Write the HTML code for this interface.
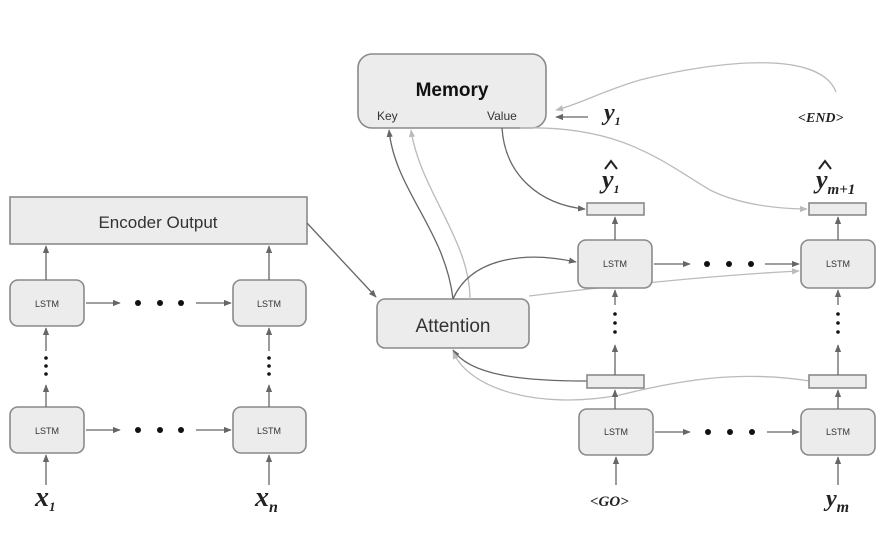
<!DOCTYPE html>
<html><head><meta charset="utf-8"><style>
html,body{margin:0;padding:0;background:#fff;}
svg{display:block;}
.box{fill:#ececec;stroke:#8a8a8a;stroke-width:1.6;}
.l{fill:none;stroke:#666;stroke-width:1.3;}
.lg{fill:none;stroke:#bbb;stroke-width:1.3;}
.t{font-family:"Liberation Sans",sans-serif;fill:#333;}
.m{font-family:"Liberation Serif",serif;font-style:italic;font-weight:bold;fill:#222;}
</style></head><body>
<svg width="895" height="543" viewBox="0 0 895 543" xmlns="http://www.w3.org/2000/svg">
<defs>
<marker id="a" viewBox="0 0 10 10" refX="9" refY="5" markerWidth="6" markerHeight="6" orient="auto"><path d="M0,1 L10,5 L0,9z" fill="#666"/></marker>
<marker id="ag" viewBox="0 0 10 10" refX="9" refY="5" markerWidth="6" markerHeight="6" orient="auto"><path d="M0,1 L10,5 L0,9z" fill="#bbb"/></marker>
</defs>
<rect class="box" x="10" y="197" width="297" height="47"/>
<text class="t" x="158" y="228" font-size="17" text-anchor="middle">Encoder Output</text>
<g>
<rect class="box" x="10" y="280" width="74" height="46" rx="8"/>
<rect class="box" x="233" y="280" width="73" height="46" rx="8"/>
<rect class="box" x="10" y="407" width="74" height="46" rx="8"/>
<rect class="box" x="233" y="407" width="73" height="46" rx="8"/>
<text class="t" x="47" y="307" font-size="9" text-anchor="middle">LSTM</text>
<text class="t" x="269" y="307" font-size="9" text-anchor="middle">LSTM</text>
<text class="t" x="47" y="434" font-size="9" text-anchor="middle">LSTM</text>
<text class="t" x="269" y="434" font-size="9" text-anchor="middle">LSTM</text>
</g>
<g class="l">
<line x1="46" y1="280" x2="46" y2="246" marker-end="url(#a)"/>
<line x1="269" y1="280" x2="269" y2="246" marker-end="url(#a)"/>
<line x1="46" y1="351" x2="46" y2="328" marker-end="url(#a)"/>
<line x1="269" y1="351" x2="269" y2="328" marker-end="url(#a)"/>
<line x1="46" y1="407" x2="46" y2="385" marker-end="url(#a)"/>
<line x1="269" y1="407" x2="269" y2="385" marker-end="url(#a)"/>
<line x1="46" y1="485" x2="46" y2="455" marker-end="url(#a)"/>
<line x1="269" y1="485" x2="269" y2="455" marker-end="url(#a)"/>
<line x1="86" y1="303" x2="120" y2="303" marker-end="url(#a)"/>
<line x1="196" y1="303" x2="231" y2="303" marker-end="url(#a)"/>
<line x1="86" y1="430" x2="120" y2="430" marker-end="url(#a)"/>
<line x1="196" y1="430" x2="231" y2="430" marker-end="url(#a)"/>
<line x1="307" y1="223" x2="376" y2="297" marker-end="url(#a)"/>
</g>
<g fill="#111">
<circle cx="138" cy="303" r="3"/><circle cx="160" cy="303" r="3"/><circle cx="181" cy="303" r="3"/>
<circle cx="138" cy="430" r="3"/><circle cx="160" cy="430" r="3"/><circle cx="181" cy="430" r="3"/>
<circle cx="46" cy="358" r="1.8"/><circle cx="46" cy="366" r="1.8"/><circle cx="46" cy="374" r="1.8"/>
<circle cx="269" cy="358" r="1.8"/><circle cx="269" cy="366" r="1.8"/><circle cx="269" cy="374" r="1.8"/>
</g>
<text class="m" x="35" y="506" font-size="28">x<tspan font-size="13" dy="5">1</tspan></text>
<text class="m" x="255" y="506" font-size="28">x<tspan font-size="16" dy="6">n</tspan></text>

<rect class="box" x="358" y="54" width="188" height="74" rx="14"/>
<text class="t" x="452" y="96" font-size="19" font-weight="bold" text-anchor="middle" style="fill:#111">Memory</text>
<text class="t" x="377" y="120" font-size="12">Key</text>
<text class="t" x="487" y="120" font-size="12">Value</text>
<line class="l" x1="588" y1="117" x2="556" y2="117" marker-end="url(#a)"/>
<text class="m" x="604" y="120" font-size="24">y<tspan font-size="12" dy="5">1</tspan></text>
<text class="m" x="798" y="122" font-size="14">&lt;END&gt;</text>
<path class="lg" d="M836,92 C820,50 720,60 640,80 C600,92 580,104 556,110" marker-end="url(#ag)"/>

<rect class="box" x="377" y="299" width="152" height="49" rx="8"/>
<text class="t" x="453" y="320" font-size="19" text-anchor="middle" dy="12">Attention</text>
<path class="l" d="M453,299 C445,230 395,190 389,130" marker-end="url(#a)"/>
<path class="lg" d="M470,299 C470,240 420,190 411,130" marker-end="url(#ag)"/>
<path class="l" d="M453,299 C470,260 520,250 576,262" marker-end="url(#a)"/>
<path class="lg" d="M529,296 C620,285 720,275 799,271" marker-end="url(#ag)"/>
<path class="l" d="M587,381 C520,381 470,375 453,350" marker-end="url(#a)"/>
<path class="lg" d="M810,381 C740,370 680,380 620,395 C540,410 470,390 453,352" marker-end="url(#ag)"/>
<path class="l" d="M502,128 C505,175 540,205 585,209" marker-end="url(#a)"/>
<path class="lg" d="M520,128 C620,125 660,160 710,190 C740,205 780,209 807,209" marker-end="url(#ag)"/>

<rect class="box" x="587" y="203" width="57" height="12"/>
<rect class="box" x="809" y="203" width="57" height="12"/>
<rect class="box" x="587" y="375" width="57" height="13"/>
<rect class="box" x="809" y="375" width="57" height="13"/>
<rect class="box" x="578" y="240" width="74" height="48" rx="8"/>
<rect class="box" x="801" y="240" width="74" height="48" rx="8"/>
<rect class="box" x="579" y="409" width="74" height="46" rx="8"/>
<rect class="box" x="801" y="409" width="74" height="46" rx="8"/>
<text class="t" x="615" y="267" font-size="9" text-anchor="middle">LSTM</text>
<text class="t" x="838" y="267" font-size="9" text-anchor="middle">LSTM</text>
<text class="t" x="616" y="435" font-size="9" text-anchor="middle">LSTM</text>
<text class="t" x="838" y="435" font-size="9" text-anchor="middle">LSTM</text>
<g class="l">
<line x1="615" y1="240" x2="615" y2="217" marker-end="url(#a)"/>
<line x1="838" y1="240" x2="838" y2="217" marker-end="url(#a)"/>
<line x1="615" y1="305" x2="615" y2="290" marker-end="url(#a)"/>
<line x1="838" y1="305" x2="838" y2="290" marker-end="url(#a)"/>
<line x1="615" y1="375" x2="615" y2="345" marker-end="url(#a)"/>
<line x1="838" y1="375" x2="838" y2="345" marker-end="url(#a)"/>
<line x1="615" y1="409" x2="615" y2="390" marker-end="url(#a)"/>
<line x1="838" y1="409" x2="838" y2="390" marker-end="url(#a)"/>
<line x1="616" y1="485" x2="616" y2="457" marker-end="url(#a)"/>
<line x1="838" y1="485" x2="838" y2="457" marker-end="url(#a)"/>
<line x1="654" y1="264" x2="690" y2="264" marker-end="url(#a)"/>
<line x1="765" y1="264" x2="799" y2="264" marker-end="url(#a)"/>
<line x1="655" y1="432" x2="690" y2="432" marker-end="url(#a)"/>
<line x1="767" y1="432" x2="799" y2="432" marker-end="url(#a)"/>
</g>
<g fill="#111">
<circle cx="707" cy="264" r="3"/><circle cx="729" cy="264" r="3"/><circle cx="751" cy="264" r="3"/>
<circle cx="708" cy="432" r="3"/><circle cx="730" cy="432" r="3"/><circle cx="752" cy="432" r="3"/>
<circle cx="615" cy="314" r="1.8"/><circle cx="615" cy="323" r="1.8"/><circle cx="615" cy="332" r="1.8"/>
<circle cx="838" cy="314" r="1.8"/><circle cx="838" cy="323" r="1.8"/><circle cx="838" cy="332" r="1.8"/>
</g>
<text class="m" x="602" y="188" font-size="26">y<tspan font-size="12" dy="5">1</tspan></text>
<path d="M605,169 L611,161 L617,169" fill="none" stroke="#222" stroke-width="2"/>
<text class="m" x="816" y="188" font-size="26">y<tspan font-size="15" dy="6">m+1</tspan></text>
<path d="M819,169 L825,161 L831,169" fill="none" stroke="#222" stroke-width="2"/>
<text class="m" x="590" y="506" font-size="15">&lt;GO&gt;</text>
<text class="m" x="826" y="506" font-size="24">y<tspan font-size="16" dy="6">m</tspan></text>
</svg>
</body></html>
